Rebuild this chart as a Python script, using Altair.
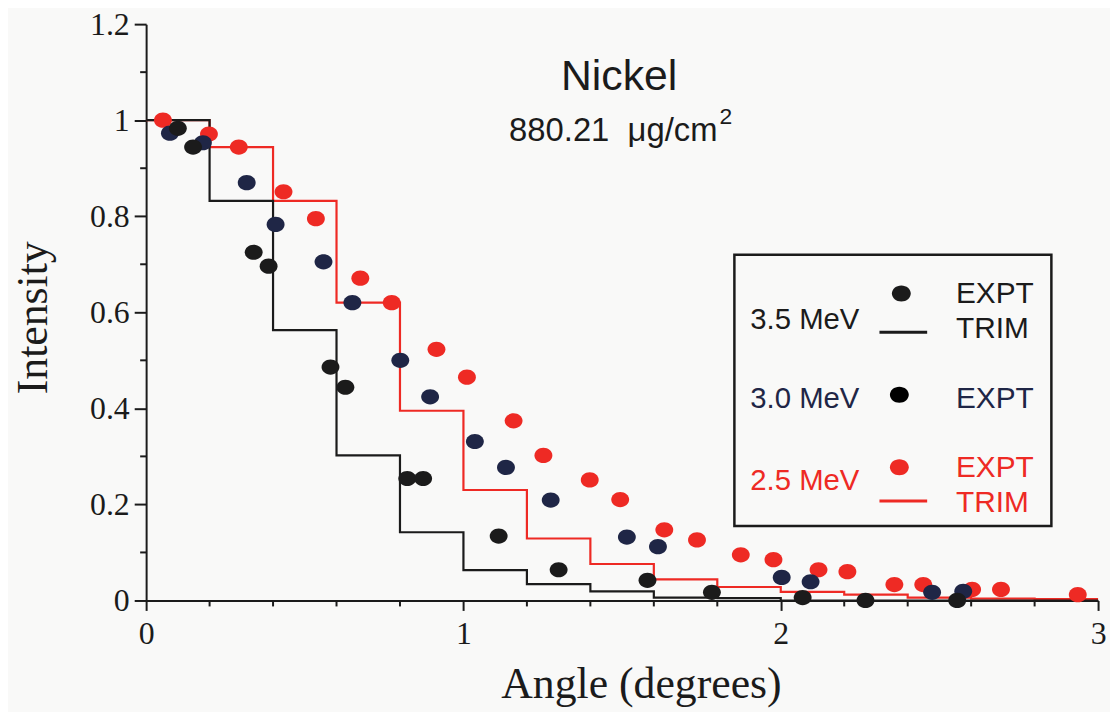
import altair as alt
import pandas as pd

# ---------------- data ----------------
# 3.5 MeV experiment
x35 = [0.100, 0.148, 0.339, 0.386, 0.581, 0.628, 0.823, 0.873, 1.111, 1.300, 1.580, 1.783, 2.069, 2.267, 2.556]
y35 = [0.983, 0.944, 0.725, 0.696, 0.486, 0.444, 0.254, 0.254, 0.134, 0.064, 0.042, 0.017, 0.006, 0.000, 0.000]
# 3.0 MeV experiment
x30 = [0.075, 0.179, 0.317, 0.408, 0.559, 0.650, 0.801, 0.895, 1.036, 1.134, 1.275, 1.515, 1.613, 2.003, 2.094, 2.477, 2.575]
y30 = [0.973, 0.953, 0.870, 0.783, 0.705, 0.620, 0.500, 0.424, 0.331, 0.277, 0.209, 0.132, 0.112, 0.048, 0.039, 0.017, 0.019]
# 2.5 MeV experiment
x25 = [0.053, 0.198, 0.292, 0.433, 0.535, 0.675, 0.774, 0.915, 1.011, 1.158, 1.252, 1.398, 1.494, 1.633, 1.736,
       1.874, 1.977, 2.119, 2.210, 2.358, 2.449, 2.603, 2.694, 2.936]
y25 = [1.000, 0.971, 0.944, 0.851, 0.795, 0.671, 0.620, 0.523, 0.465, 0.374, 0.302, 0.251, 0.210, 0.147, 0.126,
       0.095, 0.085, 0.064, 0.060, 0.033, 0.033, 0.023, 0.023, 0.012]

# TRIM histograms (bin left edges, last value repeated for the closing edge)
trim_edges = [0.0, 0.2, 0.4, 0.6, 0.8, 1.0, 1.2, 1.4, 1.6, 1.8, 2.0, 2.2, 2.4, 2.6, 2.8, 3.0]
trim35 = [1.0, 0.832, 0.563, 0.302, 0.142, 0.063, 0.034, 0.019, 0.006, 0.005, 0.0, 0.0, 0.0, 0.0, 0.0, 0.0]
trim25 = [1.0, 0.944, 0.832, 0.620, 0.395, 0.230, 0.129, 0.076, 0.044, 0.028, 0.018, 0.012, 0.006, 0.004, 0.003, 0.003]

# axis ticks
x_major = [0, 1, 2, 3]
x_minor = [0.2, 0.4, 0.6, 0.8, 1.2, 1.4, 1.6, 1.8, 2.2, 2.4, 2.6, 2.8]
y_major = [0, 0.2, 0.4, 0.6, 0.8, 1.0, 1.2]
y_minor = [0.1, 0.3, 0.5, 0.7, 0.9, 1.1]

# ---------------- styling ----------------
BLK = "#1b1b1b"
NAVY = "#1f2646"
RED = "#ee2a24"
SERIF = "Liberation Serif"
SANS = "Liberation Sans"
W, H = 958, 580
ELL = "M-1,0A1,0.85,0,1,0,1,0A1,0.85,0,1,0,-1,0Z"

xs = alt.Scale(domain=[0, 3], nice=False, zero=False)
ys = alt.Scale(domain=[0, 1.2], nice=False, zero=False)

x_axis = alt.Axis(values=x_major, format="d", title="Angle (degrees)", grid=False,
                  tickSize=10, tickWidth=2, tickColor=BLK, domainWidth=2, domainColor=BLK,
                  labelFont=SERIF, labelFontSize=32, labelColor=BLK, labelPadding=8,
                  labelFlush=False, labelOverlap=False,
                  titleFont=SERIF, titleFontSize=44, titleFontWeight="normal", titleColor=BLK,
                  titleX=498, titleY=98, titleAlign="center", titleBaseline="alphabetic")
y_axis = alt.Axis(values=y_major, format="~g", title="Intensity", grid=False,
                  tickSize=12, tickWidth=2, tickColor=BLK, domainWidth=2, domainColor=BLK,
                  labelFont=SERIF, labelFontSize=32, labelColor=BLK, labelPadding=5,
                  labelFlush=False, labelOverlap=False,
                  titleFont=SERIF, titleFontSize=44, titleFontWeight="normal", titleColor=BLK,
                  titleX=-100, titleY=295, titleAngle=270, titleAlign="center", titleBaseline="alphabetic")

# ---------------- tables ----------------
pts = pd.DataFrame({
    "angle": x25 + x30 + x35,
    "intensity": y25 + y30 + y35,
    "series": ["2.5 MeV"] * len(x25) + ["3.0 MeV"] * len(x30) + ["3.5 MeV"] * len(x35),
})
trim = pd.DataFrame({
    "angle": trim_edges + trim_edges,
    "intensity": trim25 + trim35,
    "series": ["2.5 MeV"] * len(trim_edges) + ["3.5 MeV"] * len(trim_edges),
})

color = alt.Color("series:N", legend=None,
                  scale=alt.Scale(domain=["2.5 MeV", "3.0 MeV", "3.5 MeV"], range=[RED, NAVY, BLK]))

lines = alt.Chart(trim).mark_line(interpolate="step-after", strokeWidth=2.2).encode(
    x=alt.X("angle:Q", scale=xs, axis=x_axis),
    y=alt.Y("intensity:Q", scale=ys, axis=y_axis),
    color=color,
    detail="series:N",
)

points = alt.Chart(pts).mark_point(filled=True, shape=ELL, size=324, opacity=1, strokeWidth=0).encode(
    x=alt.X("angle:Q", scale=xs, axis=x_axis),
    y=alt.Y("intensity:Q", scale=ys, axis=y_axis),
    color=color,
)

xminor = alt.Chart(pd.DataFrame({"v": x_minor})).mark_rule(color=BLK, strokeWidth=2).encode(
    x=alt.X("v:Q", scale=xs, axis=x_axis), y=alt.value(H), y2=alt.value(H + 6))
yminor = alt.Chart(pd.DataFrame({"v": y_minor})).mark_rule(color=BLK, strokeWidth=2).encode(
    y=alt.Y("v:Q", scale=ys, axis=y_axis), x=alt.value(-6), x2=alt.value(0))


def one():
    return pd.DataFrame({"k": [0]})


def label(text, px, py, size, col, align="left", font=SANS):
    return alt.Chart(pd.DataFrame({"t": [text]})).mark_text(
        align=align, baseline="middle", font=font, fontSize=size, color=col).encode(
        x=alt.value(px), y=alt.value(py), text="t:N")


def dot(px, py, col):
    return alt.Chart(one()).mark_point(filled=True, shape=ELL, size=361, opacity=1, strokeWidth=0, color=col).encode(
        x=alt.value(px), y=alt.value(py))


def seg(px1, px2, py, col):
    return alt.Chart(one()).mark_rule(color=col, strokeWidth=3).encode(
        x=alt.value(px1), x2=alt.value(px2), y=alt.value(py))


box = alt.Chart(one()).mark_rect(fillOpacity=0, stroke=BLK, strokeWidth=2.5).encode(
    x=alt.value(592), x2=alt.value(911), y=alt.value(232), y2=alt.value(505))

annotations = [
    label("Nickel", 476, 53, 43, BLK, align="center"),
    label("880.21\u00a0\u00a0μg/cm", 575, 108, 33, BLK, align="right"),
    label("2", 577, 94, 23, BLK),
    box,
    label("3.5 MeV", 608, 298, 29.5, BLK),
    dot(760, 271, BLK), seg(738, 786, 310, BLK),
    label("EXPT", 815, 272, 30, BLK), label("TRIM", 815, 307, 30, BLK),
    label("3.0 MeV", 608, 377, 29.5, NAVY),
    dot(758, 373, "#000000"),
    label("EXPT", 815, 377, 30, NAVY),
    label("2.5 MeV", 608, 460, 29.5, RED),
    dot(758, 446, RED), seg(738, 786, 480, RED),
    label("EXPT", 815, 447, 30, RED), label("TRIM", 815, 482, 30, RED),
]

chart = alt.layer(lines, points, xminor, yminor, *annotations).properties(
    width=W, height=H,
    autosize=alt.AutoSizeParams(type="none"),
    padding={"left": 139, "top": 14, "right": 12, "bottom": 110},
    background="#f9f9f8",
).configure_view(strokeWidth=0)

chart.save("out.html", embed_options={"renderer": "svg", "actions": False})
